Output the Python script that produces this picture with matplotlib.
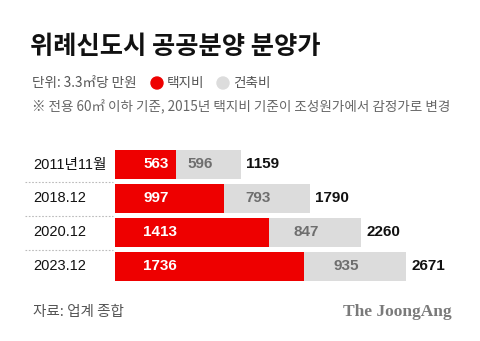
import matplotlib
matplotlib.use("Agg")
import matplotlib.pyplot as plt
from matplotlib.patches import Circle
import matplotlib.transforms as mtransforms

plt.rcParams['font.family'] = ['Noto Sans CJK KR', 'DejaVu Sans']
NUM_FONT = ['Liberation Sans', 'Noto Sans CJK KR']
LABEL_FONT = ['Liberation Sans', 'Noto Sans CJK KR']

# Data (unit: 10,000 KRW per 3.3㎡)
periods = ["2011년11월", "2018.12", "2020.12", "2023.12"]
land_cost = [563, 997, 1413, 1736]        # 택지비
build_cost = [596, 793, 847, 935]         # 건축비
totals = [1159, 1790, 2260, 2671]

title = "위례신도시 공공분양 분양가"
unit_text = "단위: 3.3㎡당 만원"
legend_labels = ["택지비", "건축비"]
note = "※ 전용 60㎡ 이하 기준, 2015년 택지비 기준이 조성원가에서 감정가로 변경"
source = "자료: 업계 종합"
brand = "The JoongAng"

RED = "#ee0000"
GRAY = "#dcdcdc"

W, H = 480, 341
fig = plt.figure(figsize=(W / 100, H / 100), dpi=100)
fig.patch.set_facecolor("white")


def fx(px):
    return px / W


def fy(py):
    return 1 - py / H


# Header texts
fig.text(fx(30), fy(47), title, fontsize=18.2, fontweight="bold", color="#111111",
         ha="left", va="center")
fig.text(fx(32), fy(83), unit_text, fontsize=9.8, color="#555555", ha="left", va="center")
fig.text(fx(167), fy(83), legend_labels[0], fontsize=9.8, color="#555555", ha="left", va="center")
fig.text(fx(233), fy(83), legend_labels[1], fontsize=9.8, color="#555555", ha="left", va="center")
fig.text(fx(32), fy(107), note, fontsize=9.75, color="#666666", ha="left", va="center")

# Legend dots
legend_ax = fig.add_axes([0, 0, 1, 1], zorder=-1)
legend_ax.set_xlim(0, W)
legend_ax.set_ylim(H, 0)
legend_ax.axis("off")
legend_ax.add_patch(Circle((157, 83), 6, color=RED))
legend_ax.add_patch(Circle((223, 83), 6, color=GRAY))

# Bar area
row_px = 34
top_px = 147.5
n = len(periods)
ax = fig.add_axes([fx(115), fy(top_px + row_px * n), fx(W - 115), row_px * n / H])
px_per_unit = 0.109
ax.set_xlim(0, (W - 115) / px_per_unit)
ax.set_ylim(n - 0.5, -0.5)
ax.axis("off")

ys = list(range(n))
bar_h = 29 / row_px
ax.barh(ys, land_cost, height=bar_h, color=RED, linewidth=0)
ax.barh(ys, build_cost, left=land_cost, height=bar_h, color=GRAY, linewidth=0)

for y, lc, bc, tot, lab in zip(ys, land_cost, build_cost, totals, periods):
    ax.annotate(str(lc), (0, y), xytext=(28, 0), textcoords="offset pixels",
                ha="left", va="center", color="white", fontsize=11, fontweight="bold",
                family=NUM_FONT)
    ax.annotate(str(bc), (lc + bc / 2, y), xytext=(-9, 0), textcoords="offset pixels",
                ha="center", va="center", color="#6e6e6e", fontsize=11, fontweight="bold",
                family=NUM_FONT)
    ax.annotate(str(tot), (tot, y), xytext=(5, 0), textcoords="offset pixels",
                ha="left", va="center", color="#111111", fontsize=11, fontweight="bold",
                family=NUM_FONT)
    ax.annotate(lab, (0, y), xytext=(-82, 0), textcoords="offset pixels",
                ha="left", va="center", color="#111111", fontsize=10.5, family=LABEL_FONT)

# Dotted separators on the label column
blend = mtransforms.blended_transform_factory(fig.transFigure, ax.transData)
for y in ys[:-1]:
    ax.plot([fx(25), fx(113)], [y + 0.5, y + 0.5], transform=blend, clip_on=False,
            color="#bbbbbb", linewidth=0.8, linestyle=(0, (1.5, 1.5)))

# Footer
fig.text(fx(33), fy(312), source, fontsize=10.5, color="#555555", ha="left", va="center")
fig.text(fx(452), fy(312), brand, fontsize=12.5, color="#7a7a7a", ha="right", va="center",
         family=["Liberation Serif", "DejaVu Serif"], fontweight="bold")

fig.savefig("out.png", dpi=100, facecolor="white")
